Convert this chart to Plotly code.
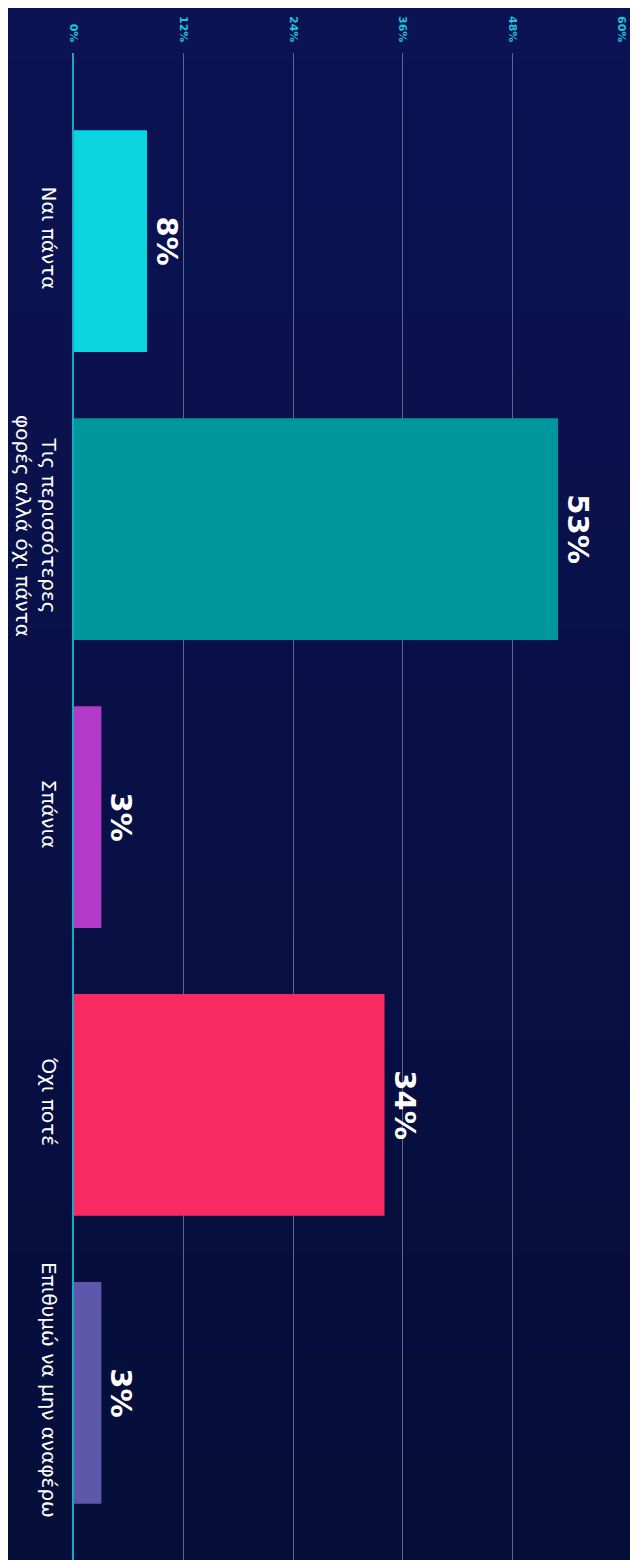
import plotly.graph_objects as go

categories = ["Ναι πάντα", "Τις περισσότερες<br>φορές αλλά όχι πάντα", "Σπάνια", "Όχι ποτέ", "Επιθυμώ να μην αναφέρω"]
values = [8, 53, 3, 34, 3]
labels = ["8%", "53%", "3%", "34%", "3%"]
colors = ["#0bd6e0", "#00969d", "#b33ac9", "#f72b62", "#5e58ab"]
x_ticks = [0, 12, 24, 36, 48, 60]
x_tick_text = ["0%", "12%", "24%", "36%", "48%", "60%"]

W, H = 630, 1552
L, R, T, B = 66, 16, 45, 0

fig = go.Figure()
fig.add_trace(go.Bar(
    y=categories, x=values, orientation="h",
    marker=dict(color=colors, line=dict(width=0)),
    width=0.77,
    text=labels, textposition="outside", textangle=90,
    textfont=dict(family="DejaVu Sans", size=29, color="#ffffff", weight="bold"),
    cliponaxis=False,
))

# background gradient (decorative)
n = 30
top_c = (12, 19, 84)
bot_c = (6, 14, 58)
shapes = []
pw = W - L - R
ph = H - T - B
for i in range(n):
    f = i / (n - 1)
    c = tuple(int(top_c[k] + (bot_c[k] - top_c[k]) * f) for k in range(3))
    y0 = 1 + T / ph - (i / n) * (H / ph)
    y1 = 1 + T / ph - ((i + 1) / n) * (H / ph)
    shapes.append(dict(type="rect", xref="paper", yref="paper",
                       x0=-L / pw, x1=1 + R / pw, y0=y1, y1=y0,
                       fillcolor="rgb(%d,%d,%d)" % c, line=dict(width=0), layer="below"))

fig.update_layout(
    width=W, height=H,
    margin=dict(l=L, r=R, t=T, b=B, autoexpand=False),
    paper_bgcolor="#0a1048",
    plot_bgcolor="rgba(0,0,0,0)",
    showlegend=False,
    shapes=shapes,
    xaxis=dict(
        side="top", range=[0, 60], tickvals=x_ticks, ticktext=x_tick_text,
        tickangle=90, tickfont=dict(family="DejaVu Sans", size=11, color="#1fc6d8", weight="bold"),
        showgrid=True, gridcolor="#5e6690", gridwidth=1,
        zeroline=False, showline=False, ticks="", ticklabelstandoff=8,
        automargin=False,
    ),
    yaxis=dict(
        categoryorder="array", categoryarray=categories,
        range=[4.58, -0.653],
        tickangle=90, tickfont=dict(family="DejaVu Sans", size=20, color="#ffffff"),
        showline=True, linecolor="#18a8bf", linewidth=2,
        showgrid=False, zeroline=False, ticks="", ticklabelstandoff=6,
        automargin=False,
    ),
)

fig.write_html("out.html")
